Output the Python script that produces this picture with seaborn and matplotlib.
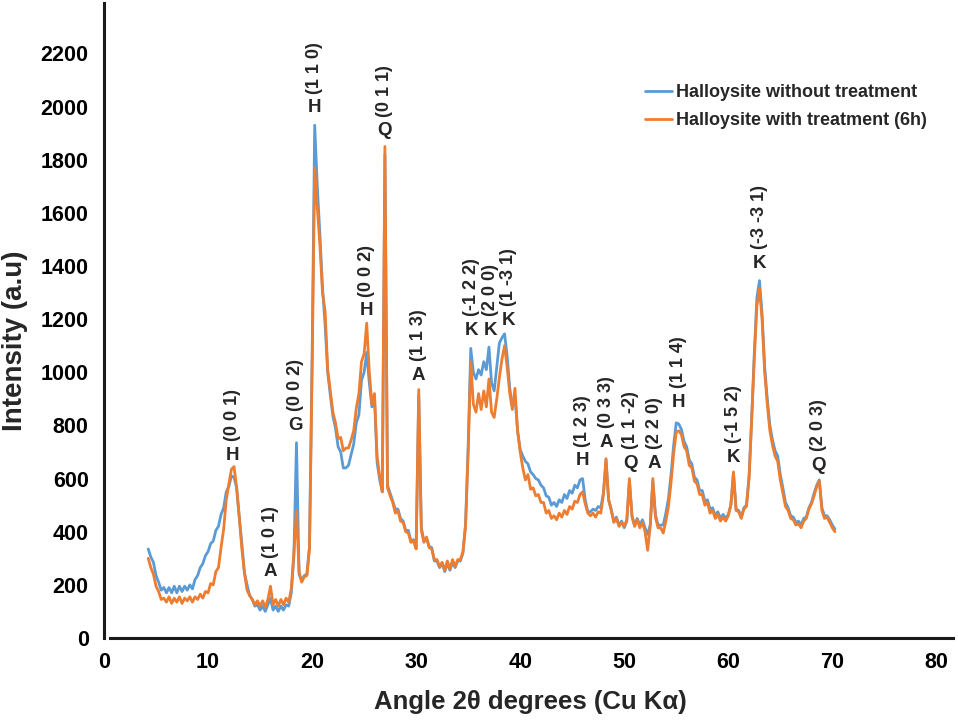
import numpy as np
import pandas as pd
import matplotlib
matplotlib.use('Agg')
import matplotlib.pyplot as plt
import seaborn as sns

# XRD scan, 2theta grid (deg) and intensities
angle = np.arange(4.25, 70.26, 0.25)

without_treatment = [
    335, 305, 285, 235, 210, 180, 190, 170,
    190, 170, 195, 170, 195, 175, 195, 180,
    200, 185, 220, 235, 265, 280, 310, 325,
    355, 365, 405, 420, 465, 490, 550, 570,
    610, 605, 565, 455, 355, 245, 200, 160,
    145, 120, 125, 105, 120, 100, 125, 150,
    105, 120, 100, 120, 105, 125, 120, 170,
    310, 735, 240, 215, 235, 240, 345, 1050,
    1930, 1700, 1520, 1320, 1180, 1000, 915, 835,
    790, 720, 700, 640, 640, 650, 690, 730,
    810, 840, 970, 1000, 1075, 960, 870, 900,
    660, 595, 550, 1820, 575, 545, 515, 485,
    485, 450, 440, 405, 405, 365, 370, 340,
    915, 415, 365, 375, 345, 340, 290, 290,
    265, 280, 250, 280, 255, 285, 265, 290,
    290, 320, 430, 720, 1090, 1000, 975, 1010,
    990, 1040, 1010, 1095, 960, 930, 1020, 1110,
    1130, 1145, 1060, 940, 870, 910, 780, 710,
    685, 665, 655, 625, 615, 600, 595, 575,
    565, 535, 530, 500, 510, 495, 520, 510,
    540, 525, 555, 545, 575, 565, 595, 600,
    520, 475, 475, 485, 480, 495, 490, 545,
    670, 520, 485, 440, 455, 425, 440, 415,
    440, 590, 460, 425, 450, 425, 445, 415,
    390, 425, 590, 465, 425, 425, 425, 470,
    525, 615, 725, 810, 805, 785, 740, 720,
    670, 655, 605, 595, 555, 555, 515, 520,
    485, 490, 460, 475, 450, 465, 450, 465,
    500, 620, 485, 480, 455, 490, 500, 610,
    830, 1070, 1280, 1345, 1220, 1020, 900, 800,
    745, 705, 685, 615, 565, 510, 490, 460,
    455, 435, 440, 425, 450, 455, 490, 510,
    545, 575, 595, 490, 460, 460, 445, 425,
    410,
]

with_treatment = [
    300, 265, 240, 195, 175, 145, 150, 135,
    155, 130, 150, 135, 155, 130, 150, 140,
    155, 135, 155, 145, 165, 150, 175, 170,
    205, 200, 250, 265, 340, 410, 520, 580,
    635, 645, 565, 455, 335, 245, 180, 160,
    145, 125, 140, 120, 140, 115, 145, 195,
    125, 145, 120, 145, 125, 150, 135, 185,
    320, 480, 250, 210, 230, 235, 335, 1000,
    1770, 1620, 1480, 1300, 1230, 1010, 930, 850,
    810, 750, 755, 705, 715, 715, 745, 780,
    865, 920, 1040, 1070, 1185, 1000, 880, 920,
    680, 610, 550, 1850, 565, 535, 510, 470,
    480, 440, 435, 400, 395, 360, 365, 335,
    935, 405, 360, 380, 340, 335, 295, 295,
    270, 285, 255, 290, 260, 295, 270, 295,
    295, 325, 420, 700, 1040, 880, 850, 920,
    860, 930, 870, 975, 850, 830, 900, 980,
    1050, 1100, 1020, 920, 860, 940, 780, 700,
    640, 595, 615, 560, 565, 535, 540, 510,
    510, 470, 480, 450, 460, 445, 470, 455,
    480, 465, 495, 485, 515, 510, 540, 550,
    505, 470, 460, 470, 455, 475, 470, 540,
    675, 520, 480, 435, 450, 420, 435, 420,
    445, 600, 455, 420, 445, 415, 435, 400,
    330, 420, 600, 455, 415, 415, 395, 440,
    495, 585, 695, 775, 780, 765, 720, 705,
    650, 640, 590, 580, 540, 540, 500, 510,
    470, 480, 450, 465, 440, 455, 440, 460,
    500, 625, 480, 475, 450, 485, 495, 600,
    820, 1050, 1250, 1315, 1200, 1000, 880, 780,
    725, 685, 665, 595, 545, 495, 480, 450,
    445, 425, 430, 415, 440, 450, 485, 505,
    535, 570, 590, 480, 450, 455, 435, 415,
    400,
]

# peak labels: phase letter + Miller indices
peak_pos = [12.36, 16.0, 18.44, 20.27, 27.0, 25.2, 30.25, 35.3, 37.1, 38.9,
            46.0, 48.3, 50.6, 52.9, 55.2, 60.5, 63.0, 68.7]
peak_phase = ['H', 'A', 'G', 'H', 'Q', 'H', 'A', 'K', 'K', 'K',
              'H', 'A', 'Q', 'A', 'H', 'K', 'K', 'Q']
peak_hkl = ['(0 0 1)', '(1 0 1)', '(0 0 2)', '(1 1 0)', '(0 1 1)', '(0 0 2)',
            '(1 1 3)', '(-1 2 2)', '(2 0 0)', '(1 -3 1)', '(1 2 3)', '(0 3 3)',
            '(1 1 -2)', '(2 2 0)', '(1 1 4)', '(-1 5 2)', '(-3 -3 1)', '(2 0 3)']
label_height = [688, 249, 801, 1997, 1910, 1233, 989, 1158, 1158, 1196,
                667, 737, 658, 658, 888, 681, 1411, 651]

series_names = ['Halloysite without treatment', 'Halloysite with treatment (6h)']
colors = ['#5B9BD5', '#ED7D31']

df = pd.DataFrame({
    'angle': np.concatenate([angle, angle]),
    'intensity': without_treatment + with_treatment,
    'sample': [series_names[0]] * len(angle) + [series_names[1]] * len(angle),
})

sns.set_style('white')
plt.rcParams['font.family'] = ['Liberation Sans', 'DejaVu Sans']
plt.rcParams['font.weight'] = 'bold'

fig = plt.figure(figsize=(9.58, 7.21), dpi=100)
ax = fig.add_axes([104 / 958, 83 / 721, 849 / 958, 635 / 721])

sns.lineplot(data=df, x='angle', y='intensity', hue='sample', palette=colors,
             estimator=None, sort=False, lw=2, ax=ax)

ax.set_xlim(0, 81.6)
ax.set_ylim(0, 2390)
ax.set_xticks(range(0, 81, 10))
ax.set_yticks(range(0, 2201, 200))
ax.tick_params(length=0, labelsize=15.5, colors='black')
ax.tick_params(axis='y', pad=11)
ax.tick_params(axis='x', pad=10)
for lab in ax.get_xticklabels() + ax.get_yticklabels():
    lab.set_fontweight('bold')
ax.set_xlabel('')
ax.set_ylabel('')

sns.despine(ax=ax)
for side in ['left', 'bottom']:
    ax.spines[side].set_linewidth(2.2)
    ax.spines[side].set_color('#1a1a1a')
ax.spines['bottom'].set_bounds(0.6, 81.6)

handles, labels = ax.get_legend_handles_labels()
leg = ax.legend(handles, labels, loc='upper left', bbox_to_anchor=(0.637, 0.872),
                frameon=False, handlelength=1.5, handletextpad=0.25,
                labelspacing=0.6, borderpad=0, borderaxespad=0,
                prop={'size': 13, 'weight': 'bold'})
for line in leg.get_lines():
    line.set_linewidth(2)

for x, y, ph, hkl in zip(peak_pos, label_height, peak_phase, peak_hkl):
    ax.text(x, y, ph, ha='center', va='center', fontsize=13.5, fontweight='bold')
    ax.annotate(hkl, (x, y), xytext=(0, 10), textcoords='offset points',
                rotation=90, ha='center', va='bottom', fontsize=13,
                fontweight='bold')

fig.text(15 / 958, 1 - 341 / 721, 'Intensity (a.u)', rotation=90,
         ha='center', va='center', fontsize=20, fontweight='bold')
fig.text(530 / 958, 1 - 702 / 721, 'Angle 2θ degrees (Cu Kα)',
         ha='center', va='center', fontsize=18.5, fontweight='bold')

fig.savefig('out.png', dpi=100)
